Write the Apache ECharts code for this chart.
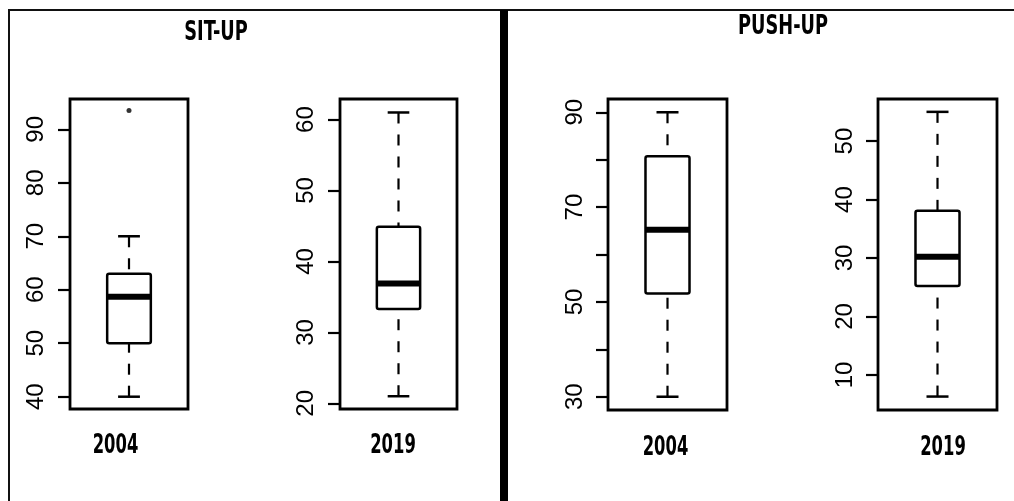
<!DOCTYPE html>
<html>
<head>
<meta charset="utf-8">
<script src="https://cdn.jsdelivr.net/npm/echarts@6/dist/echarts.min.js"></script>
<style>
html,body{margin:0;padding:0;background:#fff;}
#chart{width:1014px;height:501px;}
</style>
</head>
<body>
<div id="chart"></div>
<script>
// ---- data ----
const panelTitles = ['SIT-UP', 'PUSH-UP'];
const categories = ['2004', '2019'];
// [lower whisker, Q1, median, Q3, upper whisker]
const situp2004 = [40, 50, 58.7, 63, 70];
const situp2019 = [21, 33.3, 36.9, 44.9, 61];
const pushup2004 = [30, 51.8, 65.2, 80.7, 90];
const pushup2019 = [6.3, 25.2, 30.2, 38.1, 55];
const situp2004Outliers = [93.5];
// tick values / labels
const situp2004Ticks = [40, 50, 60, 70, 80, 90];
const situp2019Ticks = [20, 30, 40, 50, 60];
const pushup2004Ticks = [30, 40, 50, 60, 70, 80, 90];
const pushup2004Labels = [30, 50, 70, 90];
const pushup2019Ticks = [10, 20, 30, 40, 50];
// axis ranges
const situp2004Range = [37.7, 95.67];
const situp2019Range = [19.2, 62.9];
const pushup2004Range = [27.2, 92.8];
const pushup2019Range = [4.0, 57.2];

const panels = [
  { grid: { left: 70, top: 99, width: 118, height: 310 }, cat: categories[0], stats: situp2004, ticks: situp2004Ticks, labels: situp2004Ticks, range: situp2004Range, labelPos: [115.5, 446], margin: 22 },
  { grid: { left: 340, top: 99, width: 117, height: 310 }, cat: categories[1], stats: situp2019, ticks: situp2019Ticks, labels: situp2019Ticks, range: situp2019Range, labelPos: [393, 446], margin: 22 },
  { grid: { left: 608, top: 99, width: 119, height: 311 }, cat: categories[0], stats: pushup2004, ticks: pushup2004Ticks, labels: pushup2004Labels, range: pushup2004Range, labelPos: [665.5, 448], margin: 21 },
  { grid: { left: 878, top: 99, width: 119, height: 311 }, cat: categories[1], stats: pushup2019, ticks: pushup2019Ticks, labels: pushup2019Ticks, range: pushup2019Range, labelPos: [943, 448], margin: 21 }
];

const narrow = "'Liberation Sans Narrow', 'DejaVu Sans Condensed', 'Arial Narrow', sans-serif";

function renderBox(params, api) {
  const x = api.value(0);
  const lo = api.coord([x, api.value(1)]);
  const q1 = api.coord([x, api.value(2)]);
  const med = api.coord([x, api.value(3)]);
  const q3 = api.coord([x, api.value(4)]);
  const hi = api.coord([x, api.value(5)]);
  const band = api.size([1, 0])[0];
  const bw = band * 0.37;
  const cw = bw * 0.5;
  const cx = lo[0];
  const dash = { stroke: '#000', lineWidth: 2.2, lineDash: [11, 11] };
  const solid = { stroke: '#000', lineWidth: 2.5 };
  return {
    type: 'group',
    children: [
      { type: 'line', shape: { x1: cx, y1: lo[1], x2: cx, y2: q1[1] }, style: dash },
      { type: 'line', shape: { x1: cx, y1: hi[1], x2: cx, y2: q3[1] }, style: dash },
      { type: 'line', shape: { x1: cx - cw / 2, y1: lo[1], x2: cx + cw / 2, y2: lo[1] }, style: solid },
      { type: 'line', shape: { x1: cx - cw / 2, y1: hi[1], x2: cx + cw / 2, y2: hi[1] }, style: solid },
      { type: 'rect', shape: { x: cx - bw / 2, y: q3[1], width: bw, height: q1[1] - q3[1], r: 2 }, style: { fill: '#fff', stroke: '#000', lineWidth: 2.5 } },
      { type: 'line', shape: { x1: cx - bw / 2, y1: med[1], x2: cx + bw / 2, y2: med[1] }, style: { stroke: '#000', lineWidth: 6 } }
    ]
  };
}

const titleGraphics = [
  { type: 'text', x: 216, y: 33, scaleX: 0.76, style: { text: panelTitles[0], font: 'bold 26px ' + narrow, fill: '#000', align: 'center', verticalAlign: 'middle' }, z: 10 },
  { type: 'text', x: 783, y: 27, scaleX: 0.76, style: { text: panelTitles[1], font: 'bold 26px ' + narrow, fill: '#000', align: 'center', verticalAlign: 'middle' }, z: 10 }
];
const categoryGraphics = panels.map(p => ({
  type: 'text', x: p.labelPos[0], y: p.labelPos[1], scaleX: 0.7,
  style: { text: p.cat, font: 'bold 26px ' + narrow, fill: '#000', align: 'center', verticalAlign: 'middle' }, z: 10
}));

const option = {
  backgroundColor: '#fff',
  animation: false,
  grid: panels.map(p => Object.assign({ show: true, borderColor: '#000', borderWidth: 2.8, backgroundColor: 'transparent' }, p.grid)),
  xAxis: panels.map((p, i) => ({
    type: 'category',
    gridIndex: i,
    data: [p.cat],
    axisLine: { show: false },
    axisTick: { show: false },
    splitLine: { show: false },
    axisLabel: { show: false }
  })),
  yAxis: panels.map((p, i) => ({
    type: 'value',
    gridIndex: i,
    min: p.range[0],
    max: p.range[1],
    axisLine: { show: false },
    splitLine: { show: false },
    axisTick: { show: true, length: 12, lineStyle: { color: '#000', width: 2.2 }, customValues: p.ticks },
    axisLabel: {
      customValues: p.labels,
      rotate: 90,
      margin: p.margin,
      color: '#000',
      fontFamily: "'Liberation Sans', Arial, sans-serif",
      fontSize: 24
    }
  })),
  series: panels.map((p, i) => ({
    type: 'custom',
    xAxisIndex: i,
    yAxisIndex: i,
    renderItem: renderBox,
    encode: { x: 0, y: [1, 2, 3, 4, 5] },
    data: [[0].concat(p.stats)],
    z: 3
  })).concat([{
    type: 'scatter',
    xAxisIndex: 0,
    yAxisIndex: 0,
    symbol: 'circle',
    symbolSize: 5,
    itemStyle: { color: '#000' },
    data: situp2004Outliers.map(v => [0, v]),
    z: 4
  }]),
  graphic: [
    { type: 'rect', shape: { x: 9, y: 10, width: 1020, height: 500 }, style: { fill: 'none', stroke: '#111', lineWidth: 2 }, z: 10 },
    { type: 'rect', shape: { x: 500, y: 10, width: 8, height: 495 }, style: { fill: '#000' }, z: 10 }
  ].concat(titleGraphics, categoryGraphics)
};

const chart = echarts.init(document.getElementById('chart'), null, { renderer: 'canvas' });
chart.setOption(option);
</script>
</body>
</html>
